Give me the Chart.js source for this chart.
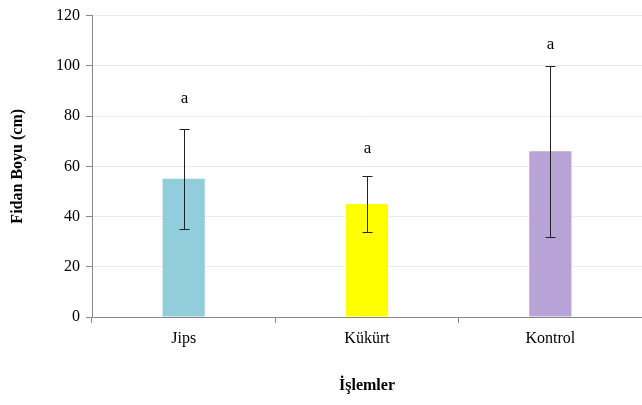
<!DOCTYPE html>
<html lang="tr">
  <head>
    <meta charset="UTF-8" />
    <title>Fidan Boyu</title>
    <script src="https://cdn.jsdelivr.net/npm/chart.js"></script>
    <style>
      * { margin: 0; padding: 0; box-sizing: border-box; }
      body { background: #ffffff; }
      .chart-box { width: 642px; height: 405px; }
    </style>
  </head>
  <body>
    <div class="chart-box">
      <canvas id="chart"></canvas>
    </div>

    <script>
      // Veriler
      var categories = ["Jips", "Kükürt", "Kontrol"];
      var heights = [55, 45, 66];
      var errLow = [35, 34, 32];
      var errHigh = [75, 56, 100];
      var letters = ["a", "a", "a"];
      var letterPos = [87, 67, 108.5];
      var yTicks = [0, 20, 40, 60, 80, 100, 120];

      var barColors = ["#92CDDC", "#FFFF00", "#B7A3D6"];
      var serif = "'Liberation Serif', 'Times New Roman', serif";

      // Hata çubukları ve harfler
      var errorBarPlugin = {
        id: "errorBars",
        afterDatasetsDraw: function (chart) {
          var ctx = chart.ctx;
          var x = chart.scales.x;
          var y = chart.scales.y;
          ctx.save();
          ctx.strokeStyle = "#222222";
          ctx.lineWidth = 1;
          for (var i = 0; i < categories.length; i++) {
            var cx = Math.round(x.getPixelForValue(i)) + 0.5;
            var top = Math.round(y.getPixelForValue(errHigh[i])) + 0.5;
            var bot = Math.round(y.getPixelForValue(errLow[i])) + 0.5;
            ctx.beginPath();
            ctx.moveTo(cx, top);
            ctx.lineTo(cx, bot);
            ctx.moveTo(cx - 5, top);
            ctx.lineTo(cx + 5, top);
            ctx.moveTo(cx - 5, bot);
            ctx.lineTo(cx + 5, bot);
            ctx.stroke();

            ctx.fillStyle = "#000000";
            ctx.font = "17px " + serif;
            ctx.textAlign = "center";
            ctx.textBaseline = "middle";
            ctx.fillText(letters[i], cx, y.getPixelForValue(letterPos[i]));
          }
          ctx.restore();
        },
      };

      new Chart(document.getElementById("chart"), {
        type: "bar",
        data: {
          labels: categories,
          datasets: [
            {
              data: heights,
              backgroundColor: barColors,
              barPercentage: 0.23,
              categoryPercentage: 1,
            },
          ],
        },
        options: {
          responsive: true,
          maintainAspectRatio: false,
          animation: false,
          layout: { padding: { top: 5, right: 0 } },
          plugins: {
            legend: { display: false },
            tooltip: { enabled: false },
          },
          scales: {
            x: {
              offset: true,
              grid: {
                display: true,
                drawOnChartArea: false,
                offset: true,
                tickLength: 6,
                color: "#888888",
              },
              border: { color: "#888888" },
              ticks: {
                color: "#000000",
                padding: 6,
                font: { family: serif, size: 16 },
              },
              title: {
                display: true,
                text: "İşlemler",
                color: "#000000",
                padding: { top: 18, bottom: 10 },
                font: { family: serif, size: 16, weight: "bold" },
              },
              afterFit: function (scale) {
                scale.height = 88;
              },
            },
            y: {
              min: 0,
              max: 120,
              afterBuildTicks: function (scale) {
                scale.ticks = yTicks.map(function (v) {
                  return { value: v };
                });
              },
              grid: {
                color: "#ebebeb",
                tickLength: 6,
                tickColor: "#888888",
              },
              border: { color: "#888888" },
              ticks: {
                color: "#000000",
                padding: 6,
                font: { family: serif, size: 16 },
              },
              title: {
                display: true,
                text: "Fidan Boyu (cm)",
                color: "#000000",
                padding: { top: 8, bottom: 4 },
                font: { family: serif, size: 16, weight: "bold" },
              },
              afterFit: function (scale) {
                scale.width = 92;
              },
            },
          },
        },
        plugins: [errorBarPlugin],
      });
    </script>
  </body>
</html>
